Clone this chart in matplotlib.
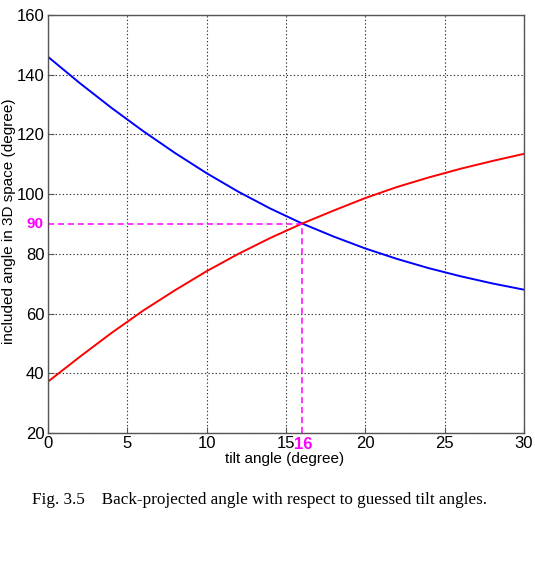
import matplotlib

matplotlib.use("Agg")

import matplotlib.pyplot as plt

# tilt angle (degree) and back-projected included angle (degree)
tilt = [0, 2, 4, 6, 8, 10, 12, 14, 16, 18, 20, 22, 24, 26, 28, 30]
blue_angle = [146.0, 137.2, 128.9, 121.1, 113.8, 107.0, 100.8, 95.2, 90.2, 85.8,
              81.8, 78.3, 75.2, 72.5, 70.1, 68.0]
red_angle = [37.2, 45.5, 53.5, 61.0, 67.8, 74.2, 80.0, 85.3, 90.1, 94.5,
             98.7, 102.4, 105.6, 108.5, 111.1, 113.5]

cross_x = 16
cross_y = 90
x_ticks = [0, 5, 10, 15, 20, 25, 30]
y_ticks = [20, 40, 60, 80, 100, 120, 140, 160]

SANS = ["Liberation Sans", "DejaVu Sans"]
MAGENTA = "#ff00ff"


def main():
    fig = plt.figure(figsize=(5.35, 5.65), dpi=100)
    ax = fig.add_axes([48 / 535, 1 - 433 / 565, 476 / 535, 418 / 565])

    ax.plot(tilt, blue_angle, color="#0000ff", linewidth=1.4)
    ax.plot(tilt, red_angle, color="#ff0000", linewidth=1.4)

    # guide lines to the crossing point
    ax.plot([0, cross_x], [cross_y, cross_y], color=MAGENTA, linestyle=(0, (4, 2.5)), linewidth=1.1)
    ax.plot([cross_x, cross_x], [20, cross_y], color=MAGENTA, linestyle=(0, (4, 2.5)), linewidth=1.1)

    ax.set_xlim(0, 30)
    ax.set_ylim(20, 160)
    ax.set_xticks(x_ticks)
    ax.set_yticks(y_ticks)
    ax.grid(True, color="#333333", linestyle=(0, (1.2, 2.0)), linewidth=0.8)
    ax.tick_params(direction="in", length=4, color="#555555", labelsize=12, pad=2.5)
    for lab in ax.get_xticklabels() + ax.get_yticklabels():
        lab.set_family(SANS)
    for sp in ax.spines.values():
        sp.set_color("#555555")
        sp.set_linewidth(1.0)

    ax.text(-0.3, cross_y, str(cross_y), color=MAGENTA, fontsize=11, fontweight="bold",
            ha="right", va="center", family=SANS)
    ax.text(cross_x + 0.1, 20 - 1.3, str(cross_x), color=MAGENTA, fontsize=12, fontweight="bold",
            ha="center", va="top", family=SANS)

    fig.text(285 / 535, 1 - 459 / 565, "tilt angle (degree)", ha="center", va="center",
             fontsize=11, family=SANS)
    fig.text(9.5 / 535, 1 - 221 / 565, "included angle in 3D space (degree)", rotation=90,
             ha="center", va="center", fontsize=11, family=SANS)

    fig.text(260 / 535, 1 - 500 / 565, "Fig. 3.5    Back-projected angle with respect to guessed tilt angles.",
             ha="center", va="center", fontsize=12.3, family=["Liberation Serif", "DejaVu Serif"])

    fig.savefig("out.png", dpi=100)
    plt.close(fig)


if __name__ == "__main__":
    main()
